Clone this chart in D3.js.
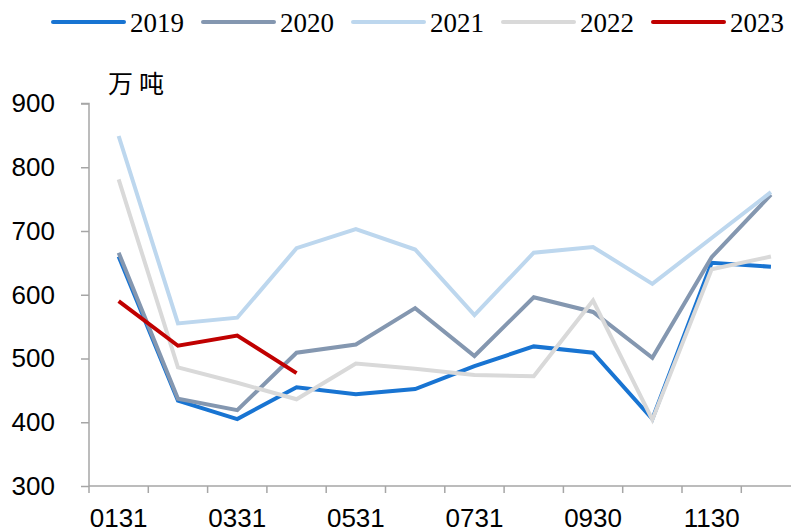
<!DOCTYPE html>
<html>
<head>
<meta charset="utf-8">
<script src="https://cdn.jsdelivr.net/npm/d3@7"></script>
<style>
  html, body { margin: 0; padding: 0; background: #fff; }
  svg { display: block; }
</style>
</head>
<body>
<svg id="chart" width="791" height="532"></svg>
<script>
// ---- data ----
const months = ["0131","0228","0331","0430","0531","0630","0731","0831","0930","1031","1130","1231"];
const shownLabels = ["0131","0331","0531","0731","0930","1130"];
const yTicks = [300, 400, 500, 600, 700, 800, 900];
const unitLabel = "万吨";
const seriesNames = ["2019","2020","2021","2022","2023"];
const v2019 = [660, 434, 405, 455, 444, 452, 488, 519, 509, 405, 650, 644];
const v2020 = [666, 437, 419, 509, 522, 579, 504, 596, 573, 501, 659, 757];
const v2021 = [849, 555, 564, 673, 703, 671, 568, 666, 675, 617, 689, 761];
const v2022 = [781, 486, 462, 436, 492, 484, 474, 472, 591, 404, 640, 660];
const v2023 = [590, 520, 536, 477];
const seriesValues = [v2019, v2020, v2021, v2022, v2023];
const colors = ["#1874D2", "#8497B0", "#BDD7EE", "#D9D9D9", "#C00000"];

// ---- layout ----
const svg = d3.select("#chart");
const x0 = 89, step = 59.3;
const x = d3.scaleBand().domain(months).range([x0, x0 + step * months.length]).padding(0);
const y = d3.scaleLinear().domain([300, 900]).range([486, 103.5]);
const axisColor = "#A6A6A6";

// y axis
const yAxis = svg.append("g")
  .attr("transform", `translate(${x0},0)`)
  .call(d3.axisLeft(y).tickValues(yTicks).tickSize(8).tickPadding(26).tickFormat(d3.format("d")));
yAxis.select(".domain").attr("stroke", axisColor).attr("stroke-width", 1.5)
  .attr("d", `M-8,${y(900)}H0V${y(300)}`);
yAxis.selectAll(".tick line").attr("stroke", axisColor).attr("stroke-width", 1.5);
yAxis.selectAll(".tick text")
  .attr("font-family", "'Liberation Sans', Arial, sans-serif")
  .attr("font-size", 26).attr("fill", "#000");

// x axis
const xAxis = svg.append("g")
  .attr("transform", `translate(0,${y(300)})`)
  .call(d3.axisBottom(x).tickSize(0).tickPadding(23)
    .tickFormat(d => shownLabels.includes(d) ? d : ""));
xAxis.select(".domain").attr("stroke", axisColor).attr("stroke-width", 1.5)
  .attr("d", `M${x0},0H${x0 + step * months.length}`);
xAxis.selectAll(".tick text")
  .attr("font-family", "'Liberation Sans', Arial, sans-serif")
  .attr("font-size", 26).attr("fill", "#000");
// tick marks at band boundaries
const boundaries = months.map(m => x(m)).concat([x0 + step * months.length]);
xAxis.selectAll(".bt").data(boundaries).join("line")
  .attr("class", "bt")
  .attr("x1", d => d).attr("x2", d => d)
  .attr("y1", 0).attr("y2", 7)
  .attr("stroke", axisColor).attr("stroke-width", 1.5);

// unit label
svg.append("text")
  .attr("x", 108).attr("y", 93)
  .attr("font-family", "'Noto Sans CJK SC', sans-serif")
  .attr("font-size", 25).attr("letter-spacing", 6)
  .attr("fill", "#000")
  .text(unitLabel);

// lines
const line = d3.line()
  .x((d, i) => x(months[i]) + x.bandwidth() / 2)
  .y(d => y(d));
svg.append("g").selectAll("path").data(seriesValues).join("path")
  .attr("d", d => line(d))
  .attr("fill", "none")
  .attr("stroke", (d, i) => colors[i])
  .attr("stroke-width", 4)
  .attr("stroke-linejoin", "miter")
  .attr("stroke-linecap", "butt");

// legend
const legend = svg.append("g");
const lg = legend.selectAll("g").data(seriesNames).join("g")
  .attr("transform", (d, i) => `translate(${53 + i * 150},22)`);
lg.append("line")
  .attr("x1", 0).attr("x2", 71).attr("y1", 0).attr("y2", 0)
  .attr("stroke", (d, i) => colors[i]).attr("stroke-width", 4)
  .attr("stroke-linecap", "round");
lg.append("text")
  .attr("x", 77).attr("y", 10)
  .attr("font-family", "'Liberation Serif', 'Times New Roman', serif")
  .attr("font-size", 27).attr("fill", "#000")
  .text(d => d);
</script>
</body>
</html>
